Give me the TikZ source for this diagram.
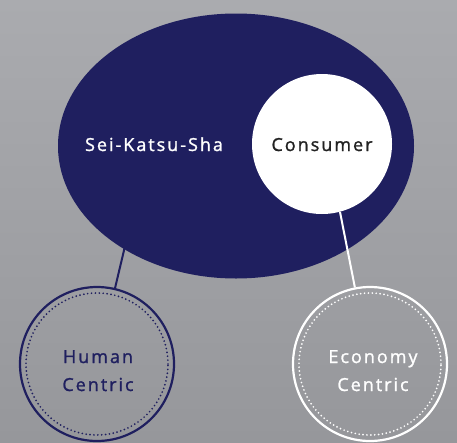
\documentclass[tikz,border=0pt]{standalone}
\usetikzlibrary{shapes.geometric}
\usepackage{fontspec}
\newfontfamily\lsfont[LetterSpace=11, FakeBold=1.3]{Open Sans}
\definecolor{navy}{HTML}{1F1F5F}
\definecolor{bgtop}{HTML}{AAABAF}
\definecolor{bgbot}{HTML}{96979B}
\definecolor{darktext}{HTML}{222222}
\begin{document}
\begin{tikzpicture}[x=1pt,y=-1pt,
  lbl/.style={font=\lsfont\fontsize{18}{28}\selectfont, inner sep=0pt, anchor=base},
  outerring/.style={circle, line width=2.2pt, minimum size=154pt, inner sep=0pt},
  innerring/.style={circle, line width=1.9pt, line cap=round, dash pattern=on 0pt off 3.9pt, minimum size=142pt, inner sep=0pt}]
\useasboundingbox (0,0) rectangle (457,442);
\shade[top color=bgtop, bottom color=bgbot] (0,0) rectangle (457,442);
% big ellipse
\node[ellipse, fill=navy, minimum width=356pt, minimum height=265pt, inner sep=0pt] (seik) at (236,146) {};
\node[lbl, text=white] (seitext) at (154,151) {Sei-Katsu-Sha};
% consumer circle
\node[circle, fill=white, minimum size=140pt, inner sep=0pt] (cons) at (322,144) {};
\node[lbl, text=darktext] (constext) at (322,151) {Consumer};
% human centric
\node[outerring, draw=navy] (human) at (97,364) {};
\node[innerring, draw=navy] (humanin) at (97,364) {};
\node[lbl, text=navy] (humantext1) at (98,363) {Human};
\node[lbl, text=navy] (humantext2) at (98,391) {Centric};
% economy centric
\node[outerring, draw=white] (econ) at (370,364) {};
\node[innerring, draw=white] (econin) at (370,364) {};
\node[lbl, text=white] (econtext1) at (373,363) {Economy};
\node[lbl, text=white] (econtext2) at (373,391) {Centric};
% connectors
\coordinate (hstart) at (140,183);
\coordinate (estart) at (340,212);
\draw[navy, line width=2pt] (hstart) -- (human);
\draw[white, line width=2pt] (estart) -- (econ);
\end{tikzpicture}
\end{document}
